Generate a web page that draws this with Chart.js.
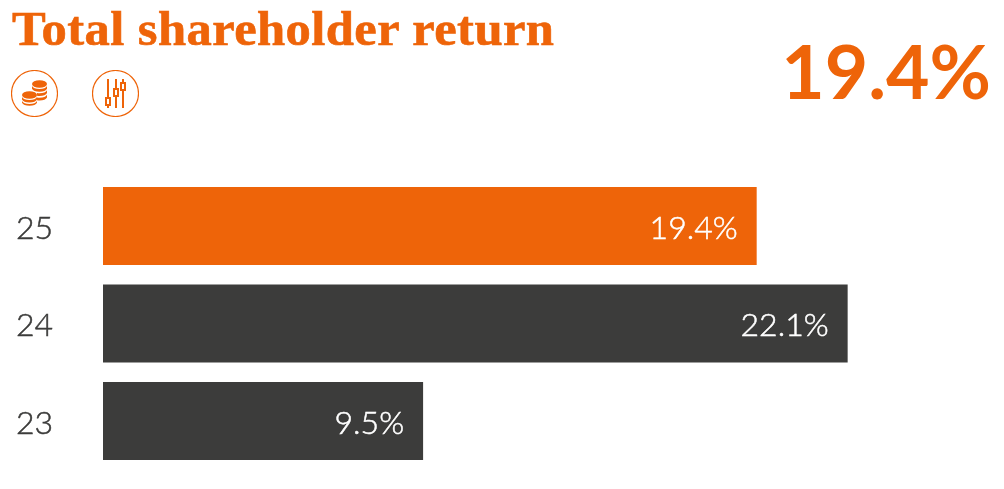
<!DOCTYPE html>
<html>
<head>
<meta charset="utf-8">
<title>Total shareholder return</title>
<script src="https://cdn.jsdelivr.net/npm/chart.js@4"></script>
<style>
html, body { margin: 0; padding: 0; background: #fff; }
#wrap { position: relative; width: 1004px; height: 489px; overflow: hidden; }
#myChart { position: absolute; left: 0; top: 0; }
#title { position: absolute; left: 12px; top: 0px; font: bold 49px "Liberation Serif", serif; color: #ee6409; white-space: nowrap; letter-spacing: 0.4px; -webkit-text-stroke: 0.6px #ee6409; transform: scaleX(1.033); transform-origin: left top; }
#big { position: absolute; right: 13px; top: 25px; font: bold 75px Lato, sans-serif; color: #ee6409; white-space: nowrap; }
.icon { position: absolute; top: 70px; width: 47px; height: 47px; }
</style>
</head>
<body>
<div id="wrap">
  <canvas id="myChart" width="1004" height="489"></canvas>
  <div id="title">Total shareholder return</div>
  <div id="big">19.4%</div>
  <svg class="icon" style="left:11px" viewBox="0 0 47 47" fill="#ee6409" stroke="#ee6409">
    <circle cx="23.5" cy="23.5" r="23" fill="none" stroke-width="1.2"/>
    <g stroke="none">
      <ellipse cx="28.500" cy="14" rx="7.500" ry="3.800"/>
      <path d="M21 16c1 2 3.500 3 7.500 3s6.500-1 7.500-3v2.800c-1 2-3.500 3-7.500 3s-6.500-1-7.500-3z"/>
      <path d="M26 23c.8.100 1.700.200 2.500.200 4 0 6.500-1 7.500-3v2.800c-1 2-3.500 3-7.500 3-.8 0-1.700-.100-2.500-.200z"/>
      <path d="M26 27.500c.8.100 1.700.200 2.500.200 4 0 6.500-1 7.500-3v2.800c-1 2-3.500 3-7.500 3-.8 0-1.700-.100-2.500-.200z"/>
      <ellipse cx="18.500" cy="25" rx="7.500" ry="3.800"/>
      <path d="M11 27c1 2 3.500 3 7.500 3s6.500-1 7.500-3v2.600c-1 2-3.500 3-7.500 3s-6.500-1-7.500-3z"/>
      <path d="M11 31c1 2 3.500 3 7.500 3s6.500-1 7.500-3v1.800c-1 2-3.500 3-7.500 3s-6.500-1-7.500-3z"/>
    </g>
  </svg>
  <svg class="icon" style="left:92px" viewBox="0 0 47 47" fill="none" stroke="#ee6409">
    <circle cx="23.5" cy="23.5" r="23" stroke-width="1.2"/>
    <g stroke-width="2">
      <path d="M16 9v29M24 9v29M31 9v29"/>
    </g>
    <g fill="#fff" stroke-width="2">
      <rect x="14" y="28" width="4" height="7"/>
      <rect x="22" y="19" width="4" height="7"/>
      <rect x="29" y="13" width="4" height="7"/>
    </g>
  </svg>
</div>
<script>
//data
const years = ['25', '24', '23']
const tsrValues = [19.4, 22.1, 9.5]
const tsrLabels = ['19.4%', '22.1%', '9.5%']
const barColors = ['#ee6409', '#3c3c3b', '#3c3c3b']

//labels inside the bar ends
const barLabels = {
    id: 'barLabels',
    afterDatasetsDraw(chart) {
        const ctx = chart.ctx
        ctx.save()
        ctx.font = '300 32px Lato, sans-serif'
        ctx.fillStyle = '#fff'
        ctx.strokeStyle = '#fff'
        ctx.lineWidth = 0.5
        ctx.textAlign = 'right'
        ctx.textBaseline = 'middle'
        chart.getDatasetMeta(0).data.forEach((bar, i) => {
            ctx.fillText(tsrLabels[i], bar.x - 19, bar.y + 2.5)
            ctx.strokeText(tsrLabels[i], bar.x - 19, bar.y + 2.5)
        })
        ctx.restore()
    }
}

// config
const config = {
    type: 'bar',
    data: {
        labels: years,
        datasets: [{
            data: tsrValues,
            backgroundColor: barColors,
            categoryPercentage: 1,
            barPercentage: 0.8,
        }]
    },
    plugins: [barLabels],
    options: {
        indexAxis: 'y',
        responsive: false,
        animation: false,
        layout: { padding: { top: 177.25, bottom: 19.25, left: 0, right: 0 } },
        plugins: {
            legend: { display: false },
            tooltip: { enabled: false },
        },
        scales: {
            x: {
                display: false,
                min: 0,
                max: 26.74,
            },
            y: {
                // the tick padding would otherwise eat into the plot height
                afterFit(scale) {
                    scale.width = 103
                    scale.paddingTop = 0
                    scale.paddingBottom = 0
                },
                grid: { display: false },
                border: { display: false },
                ticks: {
                    color: '#3c3c3b',
                    padding: 42,
                    labelOffset: 2.5,
                    textStrokeColor: '#3c3c3b',
                    textStrokeWidth: 0.5,
                    font: { family: 'Lato', size: 32, weight: '300' },
                },
            }
        }
    },
}
// render
const myChart = new Chart(document.getElementById('myChart'), config)
</script>
</body>
</html>
